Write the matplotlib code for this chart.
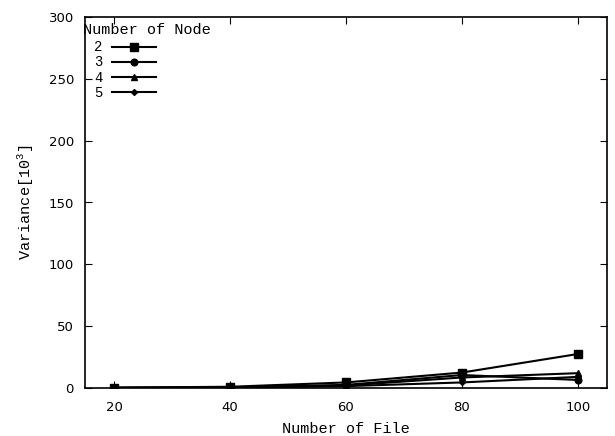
import matplotlib
matplotlib.use("Agg")
import matplotlib.pyplot as plt

plt.rcParams['mathtext.fontset'] = 'custom'
plt.rcParams['mathtext.rm'] = 'Liberation Mono'

files = [20, 40, 60, 80, 100]
node2 = [0.3, 1.0, 4.5, 12.5, 27.5]
node3 = [0.2, 0.6, 2.5, 10.5, 6.5]
node4 = [0.1, 0.4, 2.0, 8.5, 12.0]
node5 = [0.1, 0.3, 1.5, 4.5, 9.0]
labels = ['2', '3', '4', '5']

mono = 'Liberation Mono'

fig = plt.figure(figsize=(6.15, 4.36), dpi=100)
ax = fig.add_axes([85/615, 1 - 388/436, (607-85)/615, (388-17)/436])

ax.plot(files, node2, color='black', lw=1.5, marker='s', ms=5.5, label=labels[0])
ax.plot(files, node3, color='black', lw=1.5, marker='o', ms=4.8, label=labels[1])
ax.plot(files, node4, color='black', lw=1.5, marker='^', ms=4, label=labels[2])
ax.plot(files, node5, color='black', lw=1.5, marker='D', ms=3, label=labels[3])

ax.set_xlim(15, 105)
ax.set_ylim(0, 300)
ax.set_xticks(files)
ax.set_yticks(range(0, 301, 50))
ax.tick_params(direction='in', top=True, right=True, length=5, labelsize=9.5)
ax.tick_params(axis='x', pad=9)
ax.tick_params(axis='y', pad=8)
for s in ax.spines.values():
    s.set_linewidth(1.2)

ax.set_xlabel('Number of File', fontfamily=mono, fontsize=11, labelpad=6)
ax.set_ylabel('Variance[10$^3$]', fontfamily=mono, fontsize=11, labelpad=9)

# legend title sits flush with the left edge, entries indented
ax.text(-0.003, 0.965, 'Number of Node', transform=ax.transAxes,
        fontfamily=mono, fontsize=11, ha='left', va='center')
leg = ax.legend(loc='upper left', bbox_to_anchor=(0.017, 0.937), frameon=False,
                markerfirst=False, handlelength=3.15, borderaxespad=0,
                labelspacing=0.08, handletextpad=0.7, borderpad=0,
                prop={'family': mono, 'size': 10})

fig.savefig('out.png', dpi=100)
